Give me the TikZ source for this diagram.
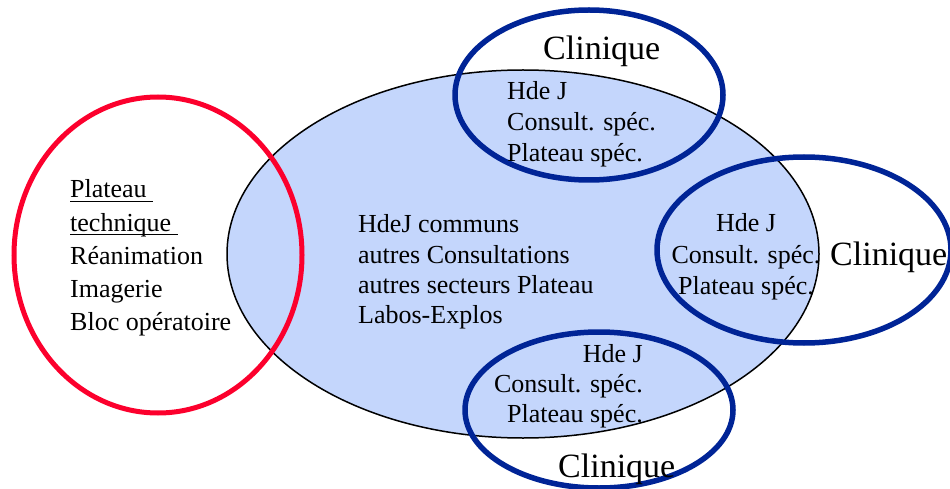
\documentclass[tikz,border=0pt]{standalone}
\usepackage{fontspec}
\setmainfont{Liberation Serif}
\usetikzlibrary{shapes.geometric}

\definecolor{paleblue}{RGB}{196,214,252}
\definecolor{ringred}{RGB}{252,0,45}
\definecolor{ringblue}{RGB}{0,36,150}

% underline drawn at a fixed depth, crossing descenders
\newcommand\ulined[1]{\setbox0\hbox{#1}\rlap{\rule[-4.3pt]{\wd0}{1.7pt}}\box0}

\tikzset{
  zone/.style={ellipse, inner sep=0pt, draw},
  txt/.style={inner sep=0pt, font=\fontsize{26}{30}\selectfont},
  big/.style={inner sep=0pt, font=\fontsize{34}{40}\selectfont},
}

\begin{document}
\begin{tikzpicture}[x=1pt, y=-1pt]
\useasboundingbox (0,0) rectangle (950,489);
\begin{scope}
\clip (0,0) rectangle (950,489);

% central hospital area
\node[zone, fill=paleblue, line width=1.5pt, minimum width=592pt, minimum height=368pt] (hub) at (523,254) {};

% technical platform ring
\node[zone, draw=ringred, line width=5pt, minimum width=288pt, minimum height=316pt] (plat) at (158,255) {};

% clinic rings
\node[zone, draw=ringblue, line width=5.5pt, minimum width=268pt, minimum height=170pt] (ctop) at (589,95) {};
\node[zone, draw=ringblue, line width=5.5pt, minimum width=294pt, minimum height=186pt] (cright) at (804,250) {};
\node[zone, draw=ringblue, line width=5.5pt, minimum width=268pt, minimum height=156pt] (cbot) at (599,410) {};
\end{scope}

% technical platform text
\node[txt, anchor=base west] (p1) at (70,198) {\ulined{Plateau\ }};
\node[txt, anchor=base west] (p2) at (70,231) {\ulined{technique\ }};
\node[txt, anchor=base west] (p3) at (70,264) {Réanimation};
\node[txt, anchor=base west] (p4) at (70,297) {Imagerie};
\node[txt, anchor=base west] (p5) at (70,330) {Bloc opératoire};

% shared hospital text
\node[txt, anchor=base west] (h1) at (358,233) {HdeJ communs};
\node[txt, anchor=base west] (h2) at (358,263) {autres Consultations};
\node[txt, anchor=base west] (h3) at (358,293) {autres secteurs Plateau};
\node[txt, anchor=base west] (h4) at (358,323) {Labos-Explos};

% top clinic
\node[big, anchor=base west] (tc) at (543,60) {Clinique};
\node[txt, anchor=base west] (t1) at (507,100) {Hde J};
\node[txt, anchor=base west] (t2) at (507,131) {Consult. spéc.};
\node[txt, anchor=base west] (t3) at (507,162) {Plateau spéc.};

% right clinic
\node[big, anchor=base west] (rc) at (830,265) {Clinique};
\node[txt, anchor=base] (r1) at (746,232) {Hde J};
\node[txt, anchor=base] (r2) at (746,263) {Consult. spéc.};
\node[txt, anchor=base] (r3) at (746,294) {Plateau spéc.};

% bottom clinic
\node[big, anchor=base west] (bc) at (558,477) {Clinique};
\node[txt, anchor=base east] (b1) at (643,362) {Hde J};
\node[txt, anchor=base east] (b2) at (643,392) {Consult. spéc.};
\node[txt, anchor=base east] (b3) at (643,422) {Plateau spéc.};
\end{tikzpicture}
\end{document}
